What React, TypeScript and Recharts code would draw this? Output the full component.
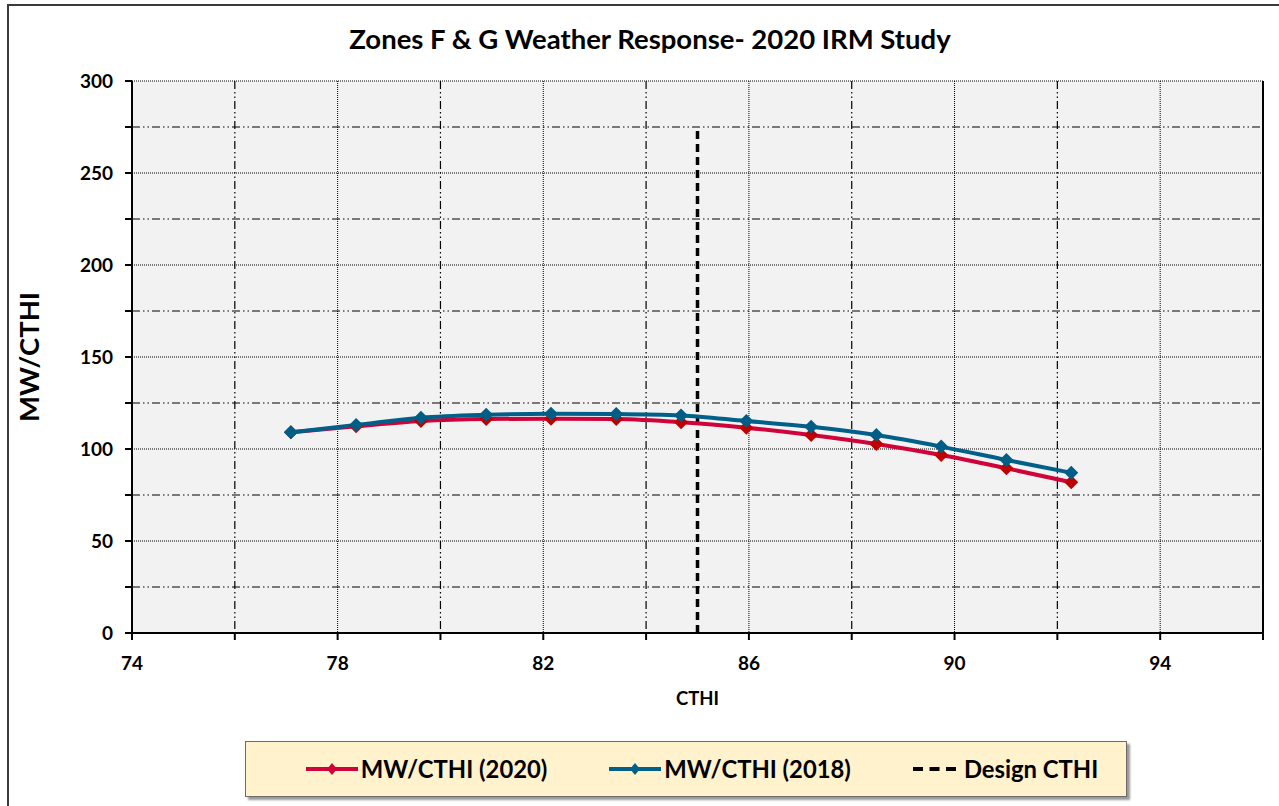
import React from 'react';
import { LineChart, Line, XAxis, YAxis, CartesianGrid, ReferenceLine, Label } from 'recharts';

const cthi = [77.09, 78.36, 79.62, 80.89, 82.15, 83.42, 84.68, 85.95, 87.21, 88.48, 89.74, 91.01, 92.27];
const mw2020 = [109.1, 112.3, 115.2, 116.3, 116.5, 116.3, 114.6, 111.6, 107.6, 102.7, 96.7, 89.5, 81.9];
const mw2018 = [109.1, 113.0, 117.0, 118.6, 119.2, 119.0, 118.2, 115.2, 112.1, 107.6, 101.3, 94.0, 87.1];
const designCthiX = [85, 85];
const designCthiY = [0, 274];

const xTicks = [74, 76, 78, 80, 82, 84, 86, 88, 90, 92, 94, 96];
const xLabelTicks = [74, 78, 82, 86, 90, 94];
const yTicks = [0, 25, 50, 75, 100, 125, 150, 175, 200, 225, 250, 275, 300];
const yLabelTicks = [0, 50, 100, 150, 200, 250, 300];
const xMajorGrid = [78, 82, 86, 90, 94];
const xMinorGrid = [76, 80, 84, 88, 92];
const yMajorGrid = [50, 100, 150, 200, 250, 300];
const yMinorGrid = [25, 75, 125, 175, 225, 275];

const title = 'Zones F & G Weather Response- 2020 IRM Study';
const xTitle = 'CTHI';
const yTitle = 'MW/CTHI';

const series = [
  { name: 'MW/CTHI (2020)', line: '#D0023A', marker: '#C00000', values: mw2020 },
  { name: 'MW/CTHI (2018)', line: '#006089', marker: '#005E86', values: mw2018 },
];
const designName = 'Design CTHI';

const FONT = 'Lato, "Liberation Sans", sans-serif';

const rows = (vals: number[]) => cthi.map((x, i) => ({ x, y: vals[i] }));
const designRows = designCthiX.map((x, i) => ({ x, y: designCthiY[i] }));

const makeDiamond = (color: string) => (props: any) => {
  const { cx, cy, index } = props;
  if (cx == null || cy == null) return <g key={`d${index}`} />;
  const r = 7;
  return (
    <path
      key={`d${index}`}
      d={`M${cx},${cy - r}L${cx + r},${cy}L${cx},${cy + r}L${cx - r},${cy}Z`}
      fill={color}
    />
  );
};

const XTick = (props: any) => {
  const { x, y, payload } = props;
  if (!xLabelTicks.includes(payload.value)) return <g />;
  return (
    <text x={x} y={y} dy={20} textAnchor="middle" fontFamily={FONT} fontWeight={700} fontSize={19} fill="#000">
      {payload.value}
    </text>
  );
};

const YTick = (props: any) => {
  const { x, y, payload } = props;
  if (!yLabelTicks.includes(payload.value)) return <g />;
  return (
    <text x={x} y={y} dy={6.5} textAnchor="end" fontFamily={FONT} fontWeight={700} fontSize={19} fill="#000">
      {payload.value}
    </text>
  );
};

const DASH_DOT = '8 3 1.5 3 1.5 3';
const DOTTED = '1 1';

const Diamond = ({ color }: { color: string }) => (
  <svg width={52} height={16} style={{ display: 'block' }}>
    <line x1={0} y1={8} x2={52} y2={8} stroke={color} strokeWidth={4} />
    <path d="M26,2L31,8L26,14L21,8Z" fill={color} />
  </svg>
);

export default function App() {
  return (
    <div style={{ position: 'absolute', left: 0, top: 0, width: 1279, height: 806, overflow: 'hidden', background: '#fff' }}>
      <style>{`body{margin:0;overflow:hidden;}`}</style>
      <div
        style={{
          position: 'absolute',
          left: 7,
          top: 4,
          width: 1300,
          height: 830,
          border: '2px solid #3a3a3a',
          boxSizing: 'border-box',
        }}
      />
      <div
        style={{
          position: 'absolute',
          left: 0,
          top: 22,
          width: 1300,
          textAlign: 'center',
          fontFamily: FONT,
          fontWeight: 700,
          fontSize: 27.5,
          lineHeight: '34px',
          color: '#000',
        }}
      >
        {title}
      </div>
      <div style={{ position: 'absolute', left: 0, top: 0 }}>
        <LineChart width={1279} height={806} margin={{ top: 81, right: 16, bottom: 143, left: 72 }}>
          <CartesianGrid fill="#F2F2F2" stroke="none" horizontal={false} vertical={false} />
          <CartesianGrid
            stroke="#000"
            strokeWidth={1}
            strokeDasharray={DOTTED}
            horizontalValues={yMajorGrid}
            verticalValues={xMajorGrid}
          />
          <CartesianGrid
            stroke="#000"
            strokeWidth={1.2}
            strokeDasharray={DASH_DOT}
            horizontalValues={yMinorGrid}
            verticalValues={xMinorGrid}
          />
          <XAxis
            type="number"
            dataKey="x"
            domain={[74, 96]}
            ticks={xTicks}
            interval={0}
            allowDataOverflow
            height={30}
            stroke="#000"
            strokeWidth={2}
            tickSize={7}
            tickMargin={10}
            tick={<XTick />}
          >
            <Label
              content={(p: any) => {
                const vb = p.viewBox || {};
                return (
                  <text
                    x={vb.x + vb.width / 2}
                    y={vb.y + 72}
                    textAnchor="middle"
                    fontFamily={FONT}
                    fontWeight={700}
                    fontSize={18.5}
                    fill="#000"
                  >
                    {xTitle}
                  </text>
                );
              }}
            />
          </XAxis>
          <YAxis
            type="number"
            domain={[0, 300]}
            ticks={yTicks}
            interval={0}
            width={60}
            stroke="#000"
            strokeWidth={2}
            tickSize={7}
            tickMargin={12}
            tick={<YTick />}
          >
            <Label
              content={(p: any) => {
                const vb = p.viewBox || {};
                const cx = vb.x + vb.width - 104;
                const cy = vb.y + vb.height / 2;
                return (
                  <text
                    x={cx}
                    y={cy}
                    transform={`rotate(-90 ${cx} ${cy})`}
                    textAnchor="middle"
                    dominantBaseline="central"
                    fontFamily={FONT}
                    fontWeight={700}
                    fontSize={27.5}
                    fill="#000"
                  >
                    {yTitle}
                  </text>
                );
              }}
            />
          </YAxis>
          <ReferenceLine x={96} stroke="#000" strokeWidth={2} />
          <Line
            data={designRows}
            dataKey="y"
            type="linear"
            stroke="#000"
            strokeWidth={3.5}
            strokeDasharray="8 5"
            dot={false}
            activeDot={false}
            isAnimationActive={false}
            name={designName}
          />
          {series.map((s) => (
            <Line
              key={s.name}
              data={rows(s.values)}
              dataKey="y"
              type="monotone"
              stroke={s.line}
              strokeWidth={4}
              dot={makeDiamond(s.marker)}
              activeDot={false}
              isAnimationActive={false}
              name={s.name}
            />
          ))}
        </LineChart>
      </div>
      <div
        style={{
          position: 'absolute',
          left: 245,
          top: 741,
          width: 882,
          height: 56,
          boxSizing: 'border-box',
          background: '#FFF2CC',
          border: '1px solid #6b6b6b',
          boxShadow: '3px 3px 2px rgba(0,0,0,0.4)',
          display: 'flex',
          alignItems: 'center',
          justifyContent: 'center',
          paddingLeft: 32,
          gap: 62,
          fontFamily: FONT,
          fontWeight: 700,
          fontSize: 23.8,
          color: '#000',
        }}
      >
        {series.map((s) => (
          <div key={s.name} style={{ display: 'flex', alignItems: 'center', gap: 3 }}>
            <Diamond color={s.line} />
            <span>{s.name}</span>
          </div>
        ))}
        <div style={{ display: 'flex', alignItems: 'center', gap: 8 }}>
          <svg width={43} height={16} style={{ display: 'block' }}>
            <line x1={0} y1={8} x2={43} y2={8} stroke="#000" strokeWidth={4} strokeDasharray="10 6.5" />
          </svg>
          <span>{designName}</span>
        </div>
      </div>
    </div>
  );
}
